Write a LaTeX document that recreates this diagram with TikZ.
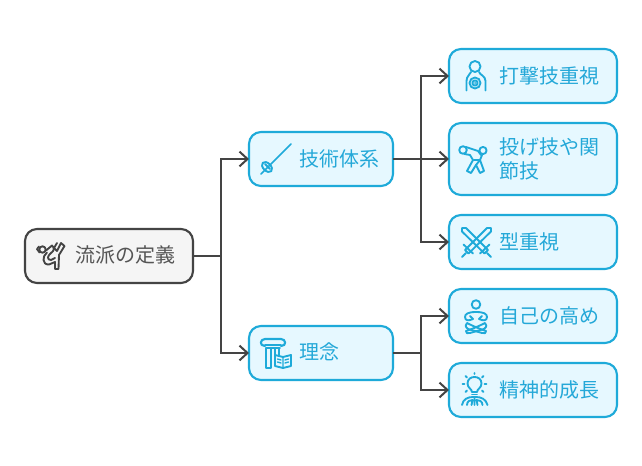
\documentclass[tikz,border=0pt]{standalone}
\usepackage{fontspec}
\setmainfont{Noto Sans CJK JP}
\usetikzlibrary{arrows.meta}
\definecolor{blueedge}{HTML}{1EAAD9}
\definecolor{bluefill}{HTML}{E6F8FF}
\definecolor{bluetext}{HTML}{24A8D8}
\definecolor{darkedge}{HTML}{444444}
\definecolor{greyfill}{HTML}{F5F5F5}
\definecolor{greytext}{HTML}{555555}
\tikzset{
  x=0.75pt,y=-0.75pt,
  box/.style={draw=blueedge,fill=bluefill,line width=1.6pt,rounded corners=9pt,minimum width=#1,inner sep=0pt,outer sep=0pt,anchor=north west},
  rootbox/.style={draw=darkedge,fill=greyfill,line width=1.6pt,rounded corners=9pt,inner sep=0pt,outer sep=0pt,anchor=north west},
  lbl/.style={font=\fontsize{15}{18}\selectfont,text=bluetext,anchor=west,inner sep=0pt},
  link/.style={draw=darkedge,line width=1.5pt},
  arrowlink/.style={link,-{Straight Barb[length=6pt,width=11pt,line width=1.5pt]}},
  ic/.style={draw=blueedge,line width=1.4pt,line cap=round,line join=round},
  icd/.style={draw=darkedge,line width=1.4pt,line cap=round,line join=round},
}
\begin{document}
\begin{tikzpicture}
\useasboundingbox (0,0) rectangle (642,466);
\fill[white] (0,0) rectangle (642,466);
% boxes
\node[rootbox,minimum width=126pt,minimum height=40.5pt] (root) at (25,229) {};
\node[box=108pt,minimum height=40.5pt] (tech) at (249,132) {};
\node[box=108pt,minimum height=40.5pt] (idea) at (249,326) {};
\node[box=126pt,minimum height=40.5pt] (b1) at (449,49) {};
\node[box=126pt,minimum height=54pt] (b2) at (449,123) {};
\node[box=126pt,minimum height=40.5pt] (b3) at (449,215) {};
\node[box=126pt,minimum height=40.5pt] (b4) at (449,289) {};
\node[box=126pt,minimum height=40.5pt] (b5) at (449,363) {};
% labels
\node[lbl,text=greytext] (troot) at (75,255) {流派の定義};
\node[lbl] (ttech) at (299.5,158.5) {技術体系};
\node[lbl] (tidea) at (299.5,352) {理念};
\node[lbl] (t1) at (499.5,75.5) {打撃技重視};
\node[lbl,align=left,font=\fontsize{15}{18}\selectfont] (t2) at (499.5,159) {投げ技や関\\節技};
\node[lbl] (t3) at (499.5,241.5) {型重視};
\node[lbl] (t4) at (499.5,315.5) {自己の高め};
\node[lbl] (t5) at (499.5,389.5) {精神的成長};
% connectors
\coordinate (j1) at (221,256);
\coordinate (j2) at (421,159);
\coordinate (j3) at (421,353);
\draw[link] (root.east) -- (j1);
\draw[arrowlink] (j1) |- (tech.west);
\draw[arrowlink] (j1) |- (idea.west);
\draw[link] (tech.east) -- (j2);
\draw[arrowlink] (j2) |- (b1.west);
\draw[arrowlink] (j2) -- (b2.west);
\draw[arrowlink] (j2) |- (b3.west);
\draw[link] (idea.east) -- (j3);
\draw[arrowlink] (j3) |- (b4.west);
\draw[arrowlink] (j3) |- (b5.west);
% root icon: kicker
\draw[icd] (42.5,249.5) circle (3.2);
\draw[icd] (39,246.5) -- (37,249) -- (39.5,252.5);
\draw[icd] (46,250.5) -- (52,245.5) .. controls (55,248) and (54,251) .. (51,253) .. controls (47,256) and (47,260) .. (51,260) -- (55,258);
\draw[icd] (57,243) -- (54,248) -- (57,251) -- (61,243) -- (64.5,246) -- (59,255) -- (58.5,269) -- (55,269) -- (55,262) -- (49,264.5) .. controls (42,265) and (42,256) .. (47,252.5);
% tech icon: fencing sword
\draw[ic,line width=1.2pt] (291,144) -- (261,174);
\draw[ic,rotate around={-45:(267,167)}] (267,167) ellipse (6 and 3.8);
\draw[ic] (265,164) -- (270,169);
% idea icon: column and book
\draw[ic,line width=1.6pt] (265,346) .. controls (259,346) and (260,339) .. (265,339) -- (281,339) .. controls (286,339) and (287,346) .. (281,346);
\draw[ic] (265,345) -- (281,345) (266,348) -- (280,348);
\draw[ic] (266,348) -- (266,368) -- (271,368) -- (271,348) (275,348) -- (275,355) (279,348) -- (279,355);
\draw[ic,fill=bluefill] (275,355) -- (283,357) -- (291,355) -- (291,366) -- (283,368) -- (275,366) -- cycle;
\draw[ic,line width=1pt] (283,357) -- (283,368) (277.5,359) -- (281,360) (277.5,362) -- (281,363) (285,360) -- (288.5,359) (285,363) -- (288.5,362);
% b1 icon: body with target
\draw[ic] (475,66.5) circle (5.5);
\draw[ic] (466.5,90.5) -- (466.5,81) .. controls (466.5,76) and (470,75) .. (471,72);
\draw[ic] (485.5,90.5) -- (485.5,81) .. controls (485.5,76) and (480,75) .. (479,72);
\draw[ic] (475,83) circle (5.5) (475,83) circle (2.6);
\fill[blueedge] (475,83) circle (1);
% b2 icon: throwing figure
\draw[ic] (463,150) circle (3.8);
\draw[ic] (483,150.5) circle (3.6);
\draw[ic] (466,147) -- (478,151) -- (481,155) (464.5,154) -- (470,155);
\draw[ic] (470,155) -- (473,160) -- (467,171) -- (471,173) -- (476,165) -- (480,173) -- (484,171) -- (480,160) -- (482,155);
\draw[ic] (474,160) -- (480,160) -- (476,165);
% b3 icon: crossed swords
\draw[ic] (462,228) -- (466,228) -- (488,250) -- (484.5,253.5) -- (462,231.5) -- cycle;
\draw[ic] (491,228) -- (487,228) -- (465,250) -- (468.5,253.5) -- (491,231.5) -- cycle;
\draw[ic] (480,253.5) -- (489.5,244.5) (473,253.5) -- (463.5,244.5);
\draw[ic] (487,253) -- (491,257) (466,253) -- (462,257);
% b4 icon: meditation
\draw[ic] (476,304.5) circle (4.3);
\draw[ic] (476,312) .. controls (468,312) and (465,314) .. (465,317) .. controls (465,321) and (469,321) .. (473,319);
\draw[ic] (476,312) .. controls (484,312) and (487,314) .. (487,317) .. controls (487,321) and (483,321) .. (479,319);
\draw[ic] (470,316) -- (473,319) (482,316) -- (479,319);
\draw[ic] (467,323) .. controls (475,327) and (480,329) .. (486,331) .. controls (487,333) and (484,334) .. (482,333) -- (468,329) .. controls (465,327) and (465,324) .. (467,323);
\draw[ic] (485,323) .. controls (477,327) and (472,329) .. (466,331) .. controls (465,333) and (468,334) .. (470,333) -- (484,329) .. controls (487,327) and (487,324) .. (485,323);
% b5 icon: light-bulb person
\draw[ic] (472,392) .. controls (472,389) and (467.5,388) .. (467.5,383.5) .. controls (467.5,379) and (471,377) .. (474.5,377) .. controls (478,377) and (481.5,379) .. (481.5,383.5) .. controls (481.5,388) and (477,389) .. (477,392) -- cycle;
\draw[ic] (472,394.5) -- (477,394.5);
\draw[ic] (474.5,373) -- (474.5,374) (462.5,384) -- (464.5,384) (484.5,384) -- (486.5,384) (465.5,376) -- (467,377.5) (483.5,376) -- (482,377.5) (465.5,392) -- (467,390.5) (483.5,392) -- (482,390.5);
\draw[ic] (462,405) .. controls (463,399) and (468,397) .. (473,397) -- (476,397) .. controls (481,397) and (486,399) .. (487.5,405);
\draw[ic] (467,405) .. controls (467,401) and (470,400) .. (472.5,400) -- (471.5,405) (482.5,405) .. controls (482.5,401) and (479,400) .. (476.5,400) -- (477.5,405) (474.5,398) -- (474.5,405);
\end{tikzpicture}
\end{document}
